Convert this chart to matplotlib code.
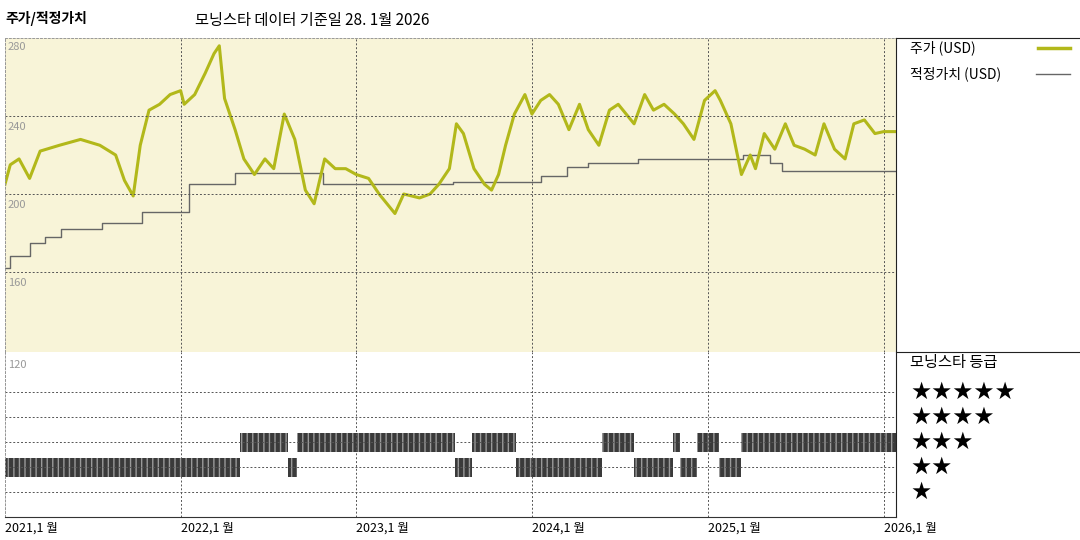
import numpy as np
import matplotlib.pyplot as plt
import matplotlib.dates as mdates
import datetime as dt

plt.rcParams['font.family'] = ['Noto Sans CJK KR', 'DejaVu Sans']

# price (USD) as (fractional year, value)
price_t = [2021.0, 2021.03, 2021.08, 2021.14, 2021.2, 2021.31, 2021.43, 2021.54, 2021.63, 2021.68,
           2021.73, 2021.77, 2021.82, 2021.88, 2021.94, 2022.0, 2022.02, 2022.08, 2022.14, 2022.19,
           2022.22, 2022.25, 2022.31, 2022.36, 2022.42, 2022.48, 2022.53, 2022.59, 2022.65, 2022.71,
           2022.76, 2022.82, 2022.88, 2022.94, 2023.0, 2023.07, 2023.13, 2023.22, 2023.27, 2023.36,
           2023.42, 2023.47, 2023.53, 2023.57, 2023.61, 2023.67, 2023.73, 2023.77, 2023.81, 2023.85,
           2023.9, 2023.96, 2024.0, 2024.05, 2024.1, 2024.15, 2024.21, 2024.27, 2024.32, 2024.38,
           2024.44, 2024.49, 2024.58, 2024.64, 2024.69, 2024.75, 2024.81, 2024.86, 2024.92, 2024.98,
           2025.04, 2025.07, 2025.13, 2025.19, 2025.24, 2025.27, 2025.32, 2025.38, 2025.44, 2025.49,
           2025.55, 2025.61, 2025.66, 2025.72, 2025.78, 2025.83, 2025.89, 2025.95, 2026.0, 2026.07]
price_v = [205, 215, 218, 208, 222, 225, 228, 225, 220, 207, 199, 225, 243, 246, 251, 253, 246, 251,
           262, 272, 276, 249, 233, 218, 210, 218, 213, 241, 228, 202, 195, 218, 213, 213, 210, 208,
           200, 190, 200, 198, 200, 205, 213, 236, 231, 213, 205, 202, 210, 225, 241, 251, 241, 248,
           251, 246, 233, 246, 233, 225, 243, 246, 236, 251, 243, 246, 241, 236, 228, 248, 253, 248,
           236, 210, 220, 213, 231, 223, 236, 225, 223, 220, 236, 223, 218, 236, 238, 231, 232, 232]

# fair value (USD), step changes
fair_t = [2021.0, 2021.03, 2021.14, 2021.23, 2021.32, 2021.55, 2021.78, 2022.05, 2022.31, 2022.81,
          2023.4, 2023.55, 2024.05, 2024.2, 2024.32, 2024.6, 2025.0, 2025.2, 2025.35, 2025.42, 2026.07]
fair_v = [162, 168, 175, 178, 182, 185, 191, 205, 211, 205, 205, 206, 209, 214, 216, 218, 218, 220,
          216, 212, 212]

# star rating periods: (start, end, stars)
rating_periods = [(2021.0, 2022.34, 2), (2022.34, 2022.61, 3), (2022.61, 2022.66, 2),
                  (2022.66, 2023.56, 3), (2023.56, 2023.66, 2), (2023.66, 2023.91, 3),
                  (2023.91, 2024.40, 2), (2024.40, 2024.58, 3), (2024.58, 2024.80, 2),
                  (2024.80, 2024.84, 3), (2024.84, 2024.94, 2), (2024.94, 2025.06, 3),
                  (2025.06, 2025.19, 2), (2025.19, 2026.07, 3)]


def to_date(y):
    yr = int(y)
    start = dt.datetime(yr, 1, 1)
    return start + (dt.datetime(yr + 1, 1, 1) - start) * (y - yr)


fig = plt.figure(figsize=(10.8, 5.4), dpi=100)
ax = fig.add_axes([5 / 1080, 1 - 352 / 540, 891 / 1080, 314 / 540])
ax2 = fig.add_axes([5 / 1080, 1 - 517 / 540, 891 / 1080, 165 / 540])
x0, x1 = to_date(2021.0), to_date(2026.07)

ax.set_facecolor('#f8f4d8')
ax.step([to_date(t) for t in fair_t], fair_v, where='post', color='#666666', lw=1)
ax.plot([to_date(t) for t in price_t], price_v, color='#b2b81a', lw=2.2)
ax.set_ylim(119, 280)
for y in [200, 240, 160]:
    ax.axhline(y, color='#555555', lw=0.7, ls=(0, (2, 2)))
for y in [280, 240, 200, 160]:
    ax.text(0.003, y - 3 if y < 280 else 278, str(y), transform=ax.get_yaxis_transform(),
            va='top', ha='left', fontsize=8, color='#999999')

ax2.set_ylim(0, 6.6)
for r in [1, 2, 3, 4, 5]:
    ax2.axhline(r, color='#555555', lw=0.7, ls=(0, (2, 2)))
ax2.text(0.003, 6.3, '120', transform=ax2.get_yaxis_transform(), va='top', fontsize=8, color='#999999')
for s, e, r in rating_periods:
    d0, d1 = mdates.date2num(to_date(s)), mdates.date2num(to_date(e))
    ax2.broken_barh([(d0, d1 - d0)], (r - 0.38, 0.76), facecolor='#3a3a3a',
                    edgecolor='#9a9a9a', hatch='|||', lw=0)

years = [dt.datetime(y, 1, 1) for y in range(2021, 2027)]
for a in (ax, ax2):
    a.set_xlim(x0, x1)
    a.set_xticks(years)
    a.grid(axis='x', color='#555555', lw=0.7, ls=(0, (2, 2)))
    a.set_yticks([])
    a.tick_params(length=0)
    for sp in ['left', 'top']:
        a.spines[sp].set_color('#999999')
        a.spines[sp].set_linestyle((0, (2, 2)))
        a.spines[sp].set_linewidth(0.7)
    a.spines['right'].set_color('#222222')
ax.set_xticklabels([])
ax.spines['bottom'].set_visible(False)
ax2.spines['top'].set_visible(False)
ax2.set_xticklabels([f'{d.year},1 월' for d in years], fontsize=9, ha='left')
ax2.spines['bottom'].set_color('#333333')

# right panel frame
fig.add_artist(plt.Line2D([896 / 1080, 1], [1 - 38 / 540] * 2, color='#222222', lw=0.8))
fig.add_artist(plt.Line2D([896 / 1080, 1], [1 - 352 / 540] * 2, color='#222222', lw=0.8))

fig.text(5 / 1080, 1 - 18 / 540, '주가/적정가치', fontsize=10, weight='bold', va='center')
fig.text(195 / 1080, 1 - 20 / 540, '모닝스타 데이터 기준일 28. 1월 2026', fontsize=11, va='center')
fig.text(910 / 1080, 1 - 48 / 540, '주가 (USD)', fontsize=10, va='center')
fig.text(910 / 1080, 1 - 74 / 540, '적정가치 (USD)', fontsize=10, va='center')
fig.add_artist(plt.Line2D([1038 / 1080, 1070 / 1080], [1 - 48 / 540] * 2, color='#b2b81a', lw=2.5))
fig.add_artist(plt.Line2D([1036 / 1080, 1070 / 1080], [1 - 74 / 540] * 2, color='#666666', lw=1))
fig.text(910 / 1080, 1 - 362 / 540, '모닝스타 등급', fontsize=11, va='center')
for i, n in enumerate([5, 4, 3, 2, 1]):
    fig.text(910 / 1080, 1 - (392 + 25 * i) / 540, '★' * n, fontsize=17, va='center',
             family=['DejaVu Sans'])

fig.savefig('out.png', dpi=100)
